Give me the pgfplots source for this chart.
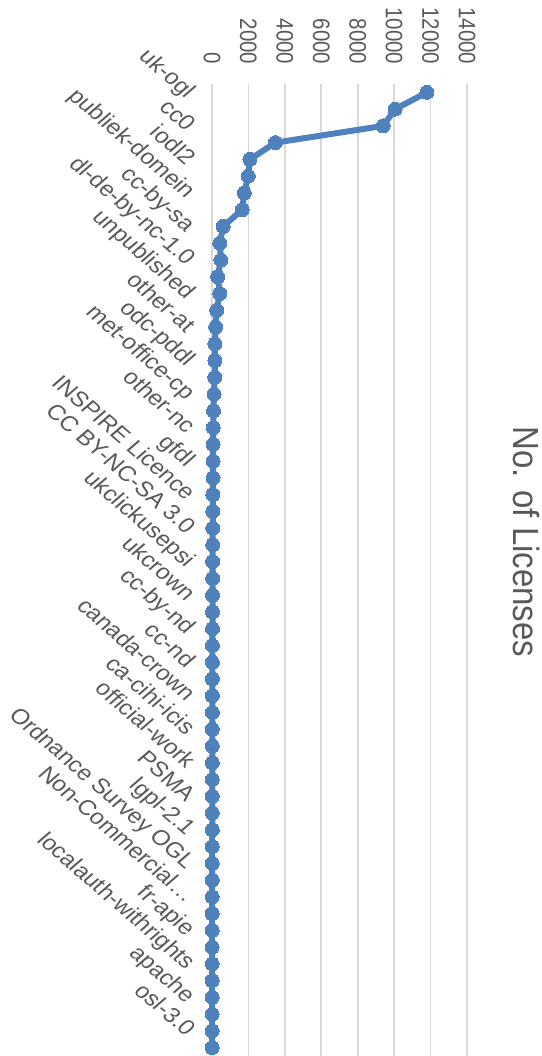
\documentclass[border=0pt]{standalone}
\usepackage{fontspec}
\setmainfont{Liberation Sans}
\usepackage{pgfplots}
\pgfplotsset{compat=1.18}
\definecolor{lineblue}{HTML}{4F81BD}
\definecolor{gridgray}{HTML}{D9D9D9}
\definecolor{textgray}{HTML}{595959}
\begin{document}
\begin{tikzpicture}
\useasboundingbox (0pt,0pt) rectangle (541pt,1056pt);
\begin{axis}[
  at={(212pt,0pt)}, anchor=south west,
  scale only axis, width=255pt, height=972pt,
  xmin=0, xmax=14000,
  ymin=-0.5, ymax=57.5, y dir=reverse,
  xtick={0,2000,...,14000},
  scaled x ticks=false,
  xticklabel pos=upper,
  /pgf/number format/assume math mode=true,
  /pgf/number format/set thousands separator={},
  xticklabel style={font=\fontsize{20.5}{25}\selectfont, text=textgray, yshift=19.5pt, xscale=1.16, rotate=-90, anchor=east, inner sep=0pt},
  ytick={0,...,57},
  yticklabels={{uk-ogl},,{cc0},,{iodl2},,{publiek-domein},,{cc-by-sa},,{dl-de-by-nc-1.0},,{unpublished},,{other-at},,{odc-pddl},,{met-office-cp},,{other-nc},,{gfdl},,{INSPIRE Licence},,{CC BY-NC-SA 3.0},,{ukclickusepsi},,{ukcrown},,{cc-by-nd},,{cc-nd},,{canada-crown},,{ca-cihi-icis},,{official-work},,{PSMA},,{lgpl-2.1},,{Ordnance Survey OGL},,{Non-Commercial…},,{fr-apie},,{localauth-withrights},,{apache},,{osl-3.0},},
  yticklabel style={font=\fontsize{21.3}{26}\selectfont, text=textgray, xshift=-26.5pt, yshift=-6.5pt, xscale=1.159, rotate=-45, anchor=base east, inner sep=0pt},
  major tick length=0pt,
  axis line style={draw=none},
  xmajorgrids,
  major grid style={color=gridgray, line width=1.8pt},
  clip=false,
  title={No. of Licenses},
  title style={at={(axis description cs:1.2314,0.5226)}, anchor=center, xscale=1.1, rotate=-90, font=\fontsize{33}{38}\selectfont, text=textgray},
]
\addplot[color=lineblue, line width=6pt, line join=round, mark=*, mark size=7pt, mark options={fill=lineblue, draw=lineblue, line width=0pt}] coordinates {
(11800,0) (10050,1) (9400,2) (3480,3) (2080,4) (1990,5) (1770,6) (1660,7)
(610,8) (430,9) (490,10) (310,11) (430,12) (260,13) (200,14) (160,15)
(160,16) (150,17) (110,18) (80,19) (70,20) (60,21) (60,22) (55,23)
(50,24) (45,25) (40,26) (38,27) (35,28) (33,29) (30,30) (28,31)
(27,32) (25,33) (24,34) (22,35) (21,36) (20,37) (19,38) (18,39)
(17,40) (16,41) (15,42) (15,43) (14,44) (13,45) (13,46) (12,47)
(12,48) (11,49) (11,50) (10,51) (10,52) (10,53) (9,54) (9,55)
(9,56) (8,57)
};
\end{axis}
\end{tikzpicture}
\end{document}
